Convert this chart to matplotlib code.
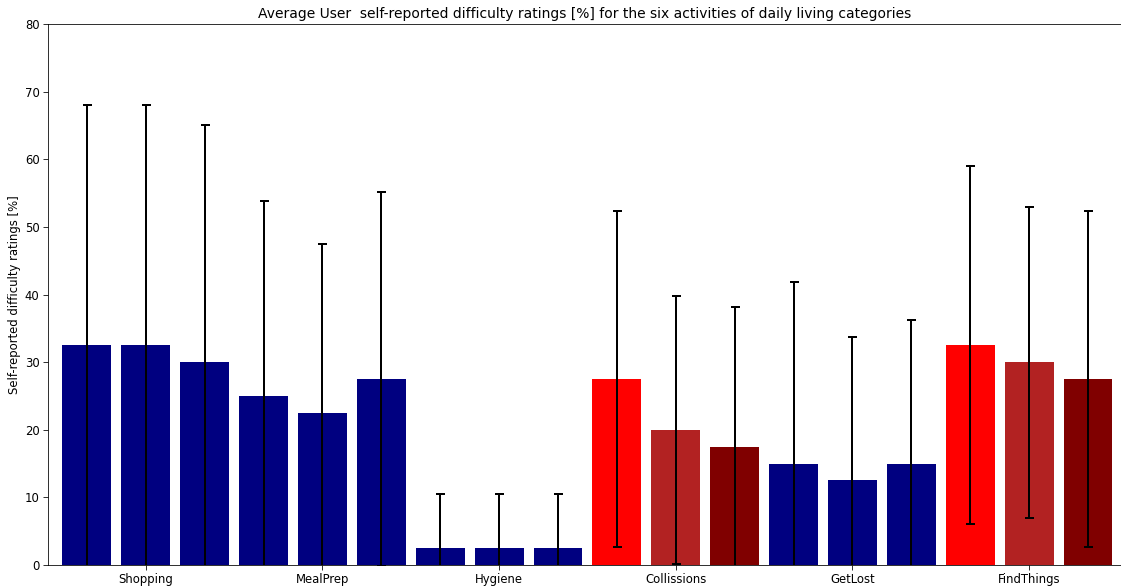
import numpy as np
import matplotlib
matplotlib.use("Agg")
import matplotlib.pyplot as plt

categories = ['Shopping', 'MealPrep', 'Hygiene', 'Collissions', 'GetLost', 'FindThings']

# three ratings per category
means = [32.5, 32.5, 30.0,
         25.0, 22.5, 27.5,
         2.5, 2.5, 2.5,
         27.5, 20.0, 17.5,
         15.0, 12.5, 15.0,
         32.5, 30.0, 27.5]

errors = [35.5, 35.5, 35.0,
          28.9, 24.9, 27.6,
          8.0, 8.0, 8.0,
          24.9, 19.8, 20.6,
          26.9, 21.2, 21.2,
          26.5, 23.0, 24.9]

colors = ['navy'] * 9 + ['red', 'firebrick', 'maroon'] + ['navy'] * 3 + ['red', 'firebrick', 'maroon']

plt.rcParams['font.size'] = 11.6
plt.rcParams['xtick.major.size'] = 4.9
plt.rcParams['ytick.major.size'] = 4.9

fig = plt.figure(figsize=(1121 / 72, 587 / 72), dpi=72)
ax = fig.add_axes([48 / 1121, 22 / 587, 1 - 48 / 1121, (565 - 24) / 587])

x = np.arange(len(means))
ax.bar(x, means, width=0.83, color=colors, yerr=errors, capsize=4.5,
       error_kw=dict(elinewidth=2, capthick=2, ecolor='black'))

ax.set_xticks(x[1::3])
ax.set_xticklabels(categories)
ax.set_xlim(-0.66, 17.56)
ax.set_ylim(0, 80)
ax.set_ylabel('Self-reported difficulty ratings [%]')
ax.set_title('Average User  self-reported difficulty ratings [%] for the six activities of daily living categories',
             fontsize=13.9)
ax.spines['right'].set_visible(False)

plt.savefig('out.png', dpi=72)
